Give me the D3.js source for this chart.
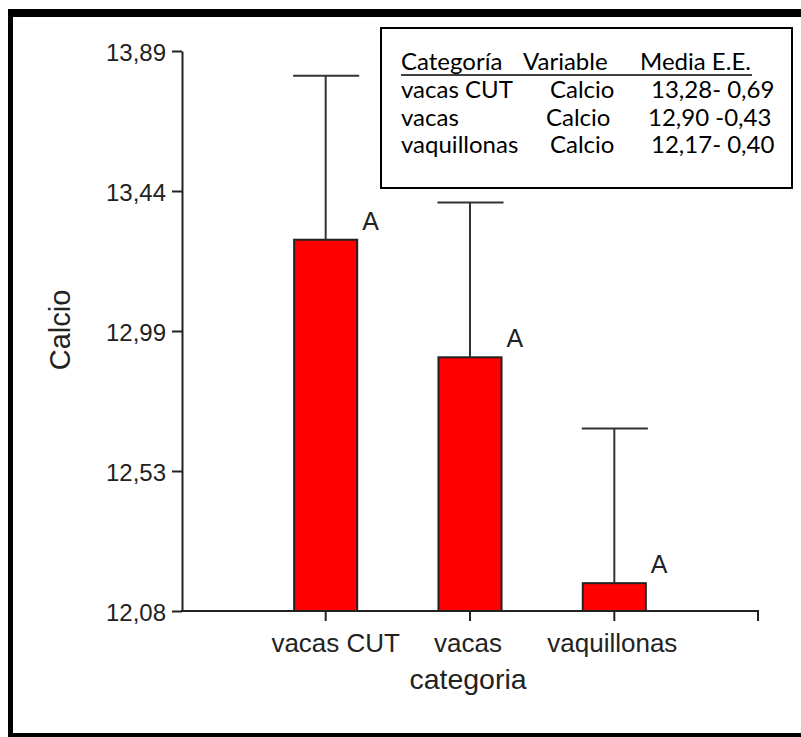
<html>
<head>
<script src="https://cdn.jsdelivr.net/npm/d3@7/dist/d3.min.js"></script>
<style>
body { margin: 0; background: #fff; }
.axis text { font-family: "Liberation Sans", Arial, sans-serif; fill: #222; }
.axis path, .axis line { stroke: #222; stroke-width: 2px; }
.bar { fill: #ff0000; stroke: #222; stroke-width: 2px; }
.err { stroke: #333; stroke-width: 2px; fill: none; }
.tab { font-family: Lato, "Open Sans", sans-serif; font-size: 24px; fill: #000; }
</style>
</head>
<body>
<svg id="chart" width="801" height="737"></svg>
<script>
// data
var categories = ['vacas CUT', 'vacas', 'vaquillonas'];
var means = [13.28, 12.90, 12.17];
var errTops = [13.81, 13.40, 12.67];   // upper end of whiskers
var letters = ['A', 'A', 'A'];
var yTicks = [12.08, 12.5325, 12.985, 13.4375, 13.89];
var yTickLabels = ['12,08', '12,53', '12,99', '13,44', '13,89'];
var tableHeader = ['Categoría', 'Variable', 'Media E.E.'];
var tableVar = ['Calcio', 'Calcio', 'Calcio'];
var tableStats = ['13,28- 0,69', '12,90 -0,43', '12,17- 0,40'];

var svg = d3.select('#chart');

// frame (right side is cut off in the original)
svg.append('rect').attr('x', 8).attr('y', 9).attr('width', 793).attr('height', 8).attr('fill', '#000');
svg.append('rect').attr('x', 8).attr('y', 9).attr('width', 5).attr('height', 728).attr('fill', '#000');
svg.append('rect').attr('x', 8).attr('y', 733).attr('width', 793).attr('height', 4).attr('fill', '#000');

var x = d3.scaleBand().domain(categories).range([182, 758])
	.paddingInner(0.563).paddingOuter(0.777);
var y = d3.scaleLinear().domain([12.08, 13.89]).range([611, 51]);

// y axis
var yAxis = d3.axisLeft(y).tickValues(yTicks)
	.tickFormat(function(d, i){ return yTickLabels[i]; })
	.tickSize(10).tickSizeOuter(0).tickPadding(6);
var gy = svg.append('g').attr('class', 'axis').attr('transform', 'translate(182,0)').call(yAxis);
gy.selectAll('text').style('font-size', '24px').attr('dy', '0.4em');

// x axis
var xAxis = d3.axisBottom(x).tickSize(10).tickSizeOuter(0).tickPadding(12);
var gx = svg.append('g').attr('class', 'axis').attr('transform', 'translate(0,611)').call(xAxis);
gx.select('.domain').attr('d', 'M181,0H758V10');
gx.selectAll('text').style('font-size', '26px').attr('dy', '0.72em')
	.attr('dx', function(d, i){ return i === 0 ? 10 : -2; });

// bars
svg.selectAll('.bar').data(categories).enter().append('rect')
	.attr('class', 'bar')
	.attr('x', function(d){ return x(d); })
	.attr('width', x.bandwidth())
	.attr('y', function(d, i){ return y(means[i]); })
	.attr('height', function(d, i){ return y(12.08) - y(means[i]); });

// whiskers
categories.forEach(function(c, i){
	var cx = x(c) + x.bandwidth() / 2;
	svg.append('line').attr('class', 'err')
		.attr('x1', cx).attr('x2', cx)
		.attr('y1', y(means[i])).attr('y2', y(errTops[i]));
	svg.append('line').attr('class', 'err')
		.attr('x1', x(c) - 1).attr('x2', x(c) + x.bandwidth() + 2)
		.attr('y1', y(errTops[i])).attr('y2', y(errTops[i]));
	svg.append('text')
		.attr('x', x(c) + x.bandwidth() + 5)
		.attr('y', y(means[i]) - 10)
		.style('font-family', '"Liberation Sans", Arial, sans-serif')
		.style('font-size', '25px').attr('fill', '#222')
		.text(letters[i]);
});

// axis titles
svg.append('text').attr('x', 468).attr('y', 689).attr('text-anchor', 'middle')
	.style('font-family', '"Liberation Sans", Arial, sans-serif').style('font-size', '28.5px').attr('fill', '#222')
	.text('categoria');
svg.append('text').attr('transform', 'translate(70,330) rotate(-90)').attr('text-anchor', 'middle')
	.style('font-family', '"Liberation Sans", Arial, sans-serif').style('font-size', '29px').attr('fill', '#222')
	.text('Calcio');

// table box
svg.append('rect').attr('x', 381).attr('y', 28).attr('width', 411).attr('height', 160)
	.attr('fill', '#fff').attr('stroke', '#000').attr('stroke-width', 2);
var colX = [401, 523, 640];
var statX = [651, 648, 651];
var varX = [550, 546, 550];
tableHeader.forEach(function(h, j){
	svg.append('text').attr('class', 'tab').attr('x', colX[j]).attr('y', 70).text(h);
});
svg.append('line').attr('x1', 401).attr('x2', 752).attr('y1', 75).attr('y2', 75)
	.attr('stroke', '#000').attr('stroke-width', 1.5);
categories.forEach(function(c, i){
	var yy = 98 + i * 27.5;
	svg.append('text').attr('class', 'tab').attr('x', colX[0]).attr('y', yy).text(c);
	svg.append('text').attr('class', 'tab').attr('x', varX[i]).attr('y', yy).text(tableVar[i]);
	svg.append('text').attr('class', 'tab').attr('x', statX[i]).attr('y', yy).text(tableStats[i]);
});
</script>
</body>
</html>
